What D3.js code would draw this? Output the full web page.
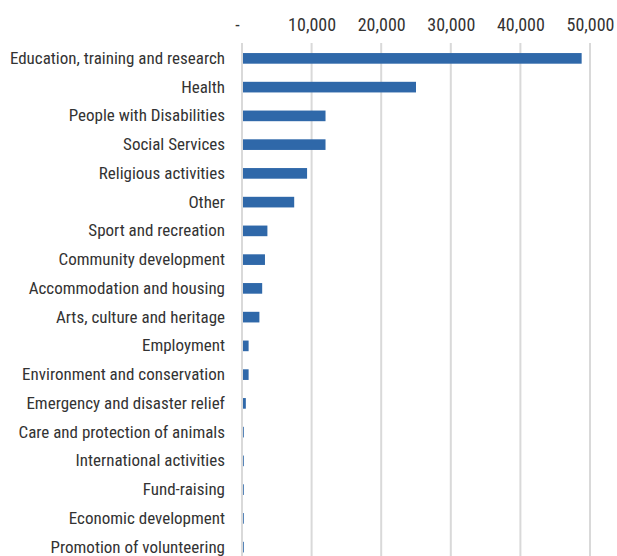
<!DOCTYPE html>
<html>
<head>
<meta charset="utf-8">
<script src="https://cdn.jsdelivr.net/npm/d3@7"></script>
<style>
  html, body { margin: 0; padding: 0; background: #fff; }
  svg { display: block; }
  text { font-family: "Liberation Sans Narrow", "Roboto Condensed", "Arial Narrow", Roboto, sans-serif; fill: #333; }
</style>
</head>
<body>
<svg id="chart" width="617" height="556"></svg>
<script>
// Organisations by main activity
const categories = [
  "Education, training and research",
  "Health",
  "People with Disabilities",
  "Social Services",
  "Religious activities",
  "Other",
  "Sport and recreation",
  "Community development",
  "Accommodation and housing",
  "Arts, culture and heritage",
  "Employment",
  "Environment and conservation",
  "Emergency and disaster relief",
  "Care and protection of animals",
  "International activities",
  "Fund-raising",
  "Economic development",
  "Promotion of volunteering"
];
const values = [
  48800, 25000, 12000, 12000, 9350, 7500, 3650, 3300, 2900, 2500,
  950, 950, 550, 150, 150, 150, 150, 150
];
const tickValues = [0, 10000, 20000, 30000, 40000, 50000];
const tickLabels = ["-", "10,000", "20,000", "30,000", "40,000", "50,000"];

const svg = d3.select("#chart");
const margin = { left: 242, right: 27, top: 44 };
const width = 617 - margin.left - margin.right;
const bandStep = 28.75;
const innerH = bandStep * categories.length;
const fontStack = "\"Liberation Sans Narrow\", \"Roboto Condensed\", Roboto, sans-serif";

const x = d3.scaleLinear().domain([0, 50000]).range([0, width]);
const y = d3.scaleBand().domain(categories).range([0, innerH]).paddingInner(0.63).paddingOuter(0.315);

const g = svg.append("g").attr("transform", `translate(${margin.left},${margin.top})`);

// vertical gridlines
g.append("g").selectAll("line").data(tickValues).join("line")
  .attr("x1", d => x(d)).attr("x2", d => x(d))
  .attr("y1", -1).attr("y2", innerH + 20)
  .attr("stroke", "#d9d9d9").attr("stroke-width", 2);

// top axis labels
const xAxis = d3.axisTop(x).tickValues(tickValues)
  .tickFormat((d, i) => tickLabels[i]).tickSize(0).tickPadding(13);
const ax = g.append("g").call(xAxis);
ax.select(".domain").remove();
ax.selectAll("text").style("font-size", "18px").style("fill", "#333")
  .style("font-family", fontStack);
ax.selectAll(".tick").filter(d => d === 0).select("text").attr("dx", -5);

// bars
g.append("g").selectAll("rect").data(values).join("rect")
  .attr("x", x(0) + 1)
  .attr("y", (d, i) => y(categories[i]))
  .attr("width", d => Math.max(0.8, x(d) - x(0) - 1))
  .attr("height", y.bandwidth())
  .attr("fill", "#2f68a9");

// category labels
const yAxis = d3.axisLeft(y).tickSize(0).tickPadding(17);
const ay = g.append("g").call(yAxis);
ay.select(".domain").remove();
ay.selectAll("text").style("font-size", "17px").style("fill", "#333")
  .style("font-family", fontStack);
</script>
</body>
</html>
